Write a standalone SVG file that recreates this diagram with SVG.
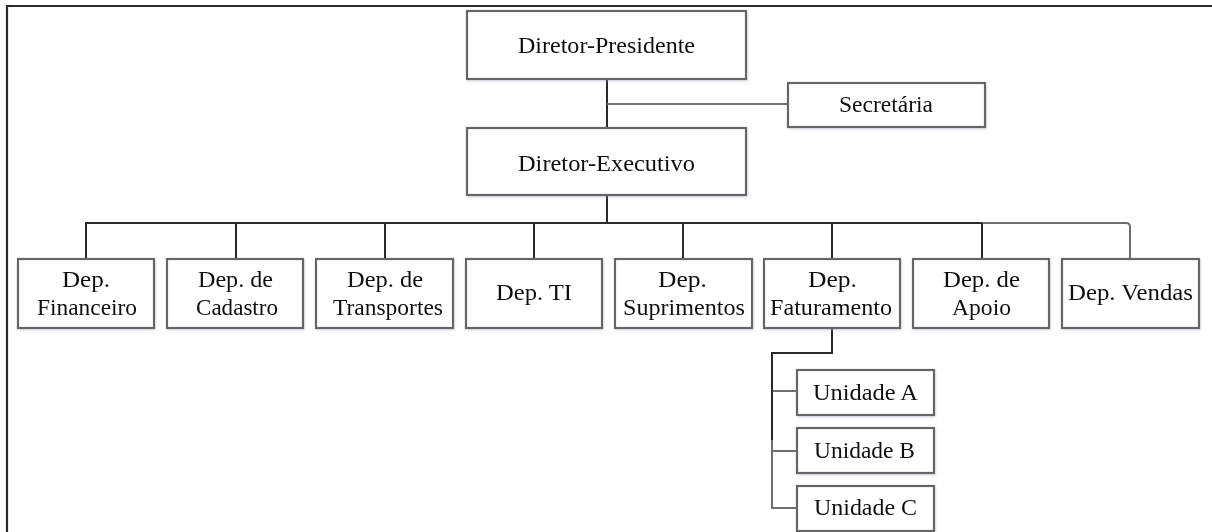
<svg xmlns="http://www.w3.org/2000/svg" width="1212" height="532" viewBox="0 0 1212 532">
<style>
.box{fill:#fff;stroke:#666;stroke-width:2.2}
.t{font-family:"Liberation Serif","Times New Roman",serif;font-size:23.5px;fill:#111}
.dk{fill:none;stroke:#2a2a2a;stroke-width:2}
.gr{fill:none;stroke:#6e6e6e;stroke-width:2}
</style>
<defs>
<filter id="sh" x="-10%" y="-10%" width="120%" height="130%">
<feDropShadow dx="1" dy="1.5" stdDeviation="1.2" flood-color="#9ab" flood-opacity="0.35"/>
</filter>
</defs>
<rect width="1212" height="532" fill="#fff"/>
<path d="M7 532 V6 H1212" fill="none" stroke="#2a2a2a" stroke-width="2.2"/>
<g id="connectors">
<path class="dk" d="M607 79 V128"/>
<path class="gr" d="M607 104 H788"/>
<path class="dk" d="M607 195 V223"/>
<path class="dk" d="M86 259 V223 H982"/>
<path class="gr" d="M982 223 H1126 Q1130 223 1130 227 V259"/>
<path class="dk" d="M236 223 V259 M385 223 V259 M534 223 V259 M683 223 V259 M832 223 V259 M982 223 V259"/>
<path class="gr" d="M772 430 V508 H797 M772 391 H797 M772 451 H797"/>
<path class="dk" d="M832 328 V353 H772 V440"/>
</g>
<g id="n-presidente" filter="url(#sh)"><rect class="box" x="467" y="11" width="279" height="68"/><text class="t" x="518" y="53" textLength="177" lengthAdjust="spacingAndGlyphs">Diretor-Presidente</text></g>
<g id="n-secretaria" filter="url(#sh)"><rect class="box" x="788" y="83" width="197" height="44"/><text class="t" x="839" y="112" textLength="94" lengthAdjust="spacingAndGlyphs">Secretária</text></g>
<g id="n-executivo" filter="url(#sh)"><rect class="box" x="467" y="128" width="279" height="67"/><text class="t" x="518" y="171" textLength="177" lengthAdjust="spacingAndGlyphs">Diretor-Executivo</text></g>
<g id="n-financeiro" filter="url(#sh)"><rect class="box" x="18" y="259" width="136" height="69"/><text class="t" x="62" y="287" textLength="48" lengthAdjust="spacingAndGlyphs">Dep.</text><text class="t" x="37" y="315" textLength="100" lengthAdjust="spacingAndGlyphs">Financeiro</text></g>
<g id="n-cadastro" filter="url(#sh)"><rect class="box" x="167" y="259" width="136" height="69"/><text class="t" x="198" y="287" textLength="75" lengthAdjust="spacingAndGlyphs">Dep. de</text><text class="t" x="196" y="315" textLength="82" lengthAdjust="spacingAndGlyphs">Cadastro</text></g>
<g id="n-transportes" filter="url(#sh)"><rect class="box" x="316" y="259" width="137" height="69"/><text class="t" x="347" y="287" textLength="76" lengthAdjust="spacingAndGlyphs">Dep. de</text><text class="t" x="333" y="315" textLength="110" lengthAdjust="spacingAndGlyphs">Transportes</text></g>
<g id="n-ti" filter="url(#sh)"><rect class="box" x="466" y="259" width="136" height="69"/><text class="t" x="496" y="300" textLength="76" lengthAdjust="spacingAndGlyphs">Dep. TI</text></g>
<g id="n-suprimentos" filter="url(#sh)"><rect class="box" x="615" y="259" width="137" height="69"/><text class="t" x="658" y="287" textLength="49" lengthAdjust="spacingAndGlyphs">Dep.</text><text class="t" x="623" y="315" textLength="122" lengthAdjust="spacingAndGlyphs">Suprimentos</text></g>
<g id="n-faturamento" filter="url(#sh)"><rect class="box" x="764" y="259" width="136" height="69"/><text class="t" x="808" y="287" textLength="49" lengthAdjust="spacingAndGlyphs">Dep.</text><text class="t" x="770" y="315" textLength="122" lengthAdjust="spacingAndGlyphs">Faturamento</text></g>
<g id="n-apoio" filter="url(#sh)"><rect class="box" x="913" y="259" width="136" height="69"/><text class="t" x="943" y="287" textLength="77" lengthAdjust="spacingAndGlyphs">Dep. de</text><text class="t" x="952" y="315" textLength="59" lengthAdjust="spacingAndGlyphs">Apoio</text></g>
<g id="n-vendas" filter="url(#sh)"><rect class="box" x="1062" y="259" width="137" height="69"/><text class="t" x="1068" y="300" textLength="125" lengthAdjust="spacingAndGlyphs">Dep. Vendas</text></g>
<g id="n-unidade-a" filter="url(#sh)"><rect class="box" x="797" y="370" width="137" height="45"/><text class="t" x="813" y="400" textLength="105" lengthAdjust="spacingAndGlyphs">Unidade A</text></g>
<g id="n-unidade-b" filter="url(#sh)"><rect class="box" x="797" y="428" width="137" height="45"/><text class="t" x="814" y="458" textLength="101" lengthAdjust="spacingAndGlyphs">Unidade B</text></g>
<g id="n-unidade-c" filter="url(#sh)"><rect class="box" x="797" y="486" width="137" height="45"/><text class="t" x="814" y="515" textLength="103" lengthAdjust="spacingAndGlyphs">Unidade C</text></g>
</svg>
